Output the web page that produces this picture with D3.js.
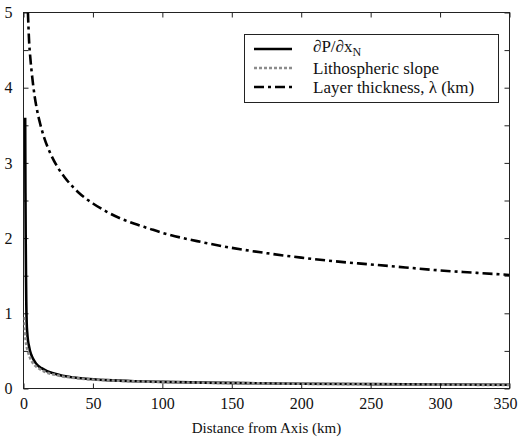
<!DOCTYPE html>
<html>
<head>
<meta charset="utf-8">
<script src="https://cdn.jsdelivr.net/npm/d3@7"></script>
<style>
  html, body { margin: 0; padding: 0; background: #fff; }
  svg { display: block; }
</style>
</head>
<body>
<svg id="chart" width="518" height="437"></svg>
<script>
// Distance from the spreading axis (km) and the three profiles
const pressureX = [1.2, 1.4, 1.6, 1.8, 2.0, 2.3, 2.7, 3.2, 4, 5, 6, 8, 10, 13, 17, 22, 28, 35, 45, 60, 80, 100, 130, 160, 200, 250, 300, 350];
const pressureY = [3.6, 2.6, 1.95, 1.5, 1.15, 0.87, 0.74, 0.64, 0.56, 0.48, 0.43, 0.36, 0.31, 0.27, 0.23, 0.2, 0.17, 0.15, 0.13, 0.112, 0.097, 0.088, 0.078, 0.071, 0.064, 0.058, 0.053, 0.05];

const slopeX = [0.3, 0.6, 1.0, 1.5, 2.0, 2.7, 3.5, 4.5, 6, 8, 10.7, 14, 17, 22, 28, 35, 45, 60, 80, 100, 130, 160, 200, 250, 300, 350];
const slopeY = [0.95, 0.85, 0.75, 0.65, 0.58, 0.52, 0.47, 0.42, 0.36, 0.31, 0.27, 0.235, 0.21, 0.185, 0.16, 0.145, 0.125, 0.11, 0.095, 0.085, 0.077, 0.07, 0.063, 0.056, 0.051, 0.047];

const thickX = [3.2, 4, 5, 6, 8, 10, 12, 15, 20, 25, 30, 40, 50, 60, 70, 80, 90, 100, 125, 150, 175, 200, 225, 250, 275, 300, 325, 350];
const thickY = [5.0, 4.63, 4.38, 4.19, 3.89, 3.68, 3.52, 3.33, 3.10, 2.93, 2.80, 2.60, 2.46, 2.35, 2.26, 2.19, 2.13, 2.07, 1.96, 1.87, 1.80, 1.74, 1.69, 1.65, 1.61, 1.57, 1.54, 1.51];

const xTickValues = [0, 50, 100, 150, 200, 250, 300, 350];
const yTickValues = [0, 0.5, 1, 1.5, 2, 2.5, 3, 3.5, 4, 4.5, 5];
const yLabelValues = [0, 1, 2, 3, 4, 5];

const legendLabels = ["Lithospheric slope", "Layer thickness, \u03bb (km)"];

const svg = d3.select("#chart");
const margin = { left: 23.5, right: 8.5, top: 12.5, bottom: 48.5 };
const W = 518, H = 437;
const font = "'Liberation Serif', 'DejaVu Serif', 'Liberation Sans', sans-serif";

const x = d3.scaleLinear().domain([0, 350]).range([margin.left, W - margin.right]);
const y = d3.scaleLinear().domain([0, 5]).range([H - margin.bottom, margin.top]);

svg.append("defs").append("clipPath").attr("id", "plotClip")
  .append("rect")
  .attr("x", x(0)).attr("y", y(5))
  .attr("width", x(350) - x(0)).attr("height", y(0) - y(5));

// Axes with inward ticks on all four sides
const tickLen = 5;
const bottomAxis = d3.axisBottom(x).tickValues(xTickValues).tickSizeInner(-tickLen).tickSizeOuter(0).tickPadding(9);
const topAxis = d3.axisTop(x).tickValues(xTickValues).tickSizeInner(-tickLen).tickSizeOuter(0).tickFormat("");
const leftAxis = d3.axisLeft(y).tickValues(yTickValues).tickSizeInner(-tickLen).tickSizeOuter(0).tickPadding(11)
  .tickFormat(d => yLabelValues.includes(d) ? d3.format("d")(d) : "");
const rightAxis = d3.axisRight(y).tickValues(yTickValues).tickSizeInner(-tickLen).tickSizeOuter(0).tickFormat("");

function styleAxis(g) {
  g.attr("font-family", font).attr("font-size", 16);
  g.select(".domain").remove();
  g.selectAll(".tick line").attr("stroke", "#222").attr("stroke-width", 1);
  g.selectAll(".tick text").attr("fill", "#111");
}

const gBottom = svg.append("g").attr("transform", `translate(0,${y(0)})`).call(bottomAxis).call(styleAxis);
// keep the last label inside the page edge
gBottom.selectAll(".tick").filter(d => d === 350).select("text")
  .attr("text-anchor", "end").attr("x", W - 1 - x(350));
svg.append("g").attr("transform", `translate(0,${y(5)})`).call(topAxis).call(styleAxis);
svg.append("g").attr("transform", `translate(${x(0)},0)`).call(leftAxis).call(styleAxis);
svg.append("g").attr("transform", `translate(${x(350)},0)`).call(rightAxis).call(styleAxis);

// Frame
svg.append("rect")
  .attr("x", x(0)).attr("y", y(5))
  .attr("width", x(350) - x(0)).attr("height", y(0) - y(5))
  .attr("fill", "none").attr("stroke", "#222").attr("stroke-width", 1);

// Axis title
svg.append("text")
  .attr("x", (x(0) + x(350)) / 2).attr("y", 433)
  .attr("text-anchor", "middle")
  .attr("font-family", font).attr("font-size", 15).attr("fill", "#111")
  .text("Distance from Axis (km)");

// Curves
const line = d3.line().x(d => x(d[0])).y(d => y(d[1])).curve(d3.curveMonotoneX);
const plot = svg.append("g").attr("clip-path", "url(#plotClip)");

const styles = {
  pressure: { stroke: "#000", width: 2.6, dash: null },
  slope: { stroke: "#8c8c8c", width: 2.6, dash: "3,2" },
  thick: { stroke: "#000", width: 2.6, dash: "10,4,3,4" }
};

plot.append("path").datum(d3.zip(thickX, thickY))
  .attr("d", line).attr("fill", "none")
  .attr("stroke", styles.thick.stroke).attr("stroke-width", styles.thick.width)
  .attr("stroke-dasharray", styles.thick.dash);

plot.append("path").datum(d3.zip(pressureX, pressureY))
  .attr("d", line).attr("fill", "none")
  .attr("stroke", styles.pressure.stroke).attr("stroke-width", styles.pressure.width);

plot.append("path").datum(d3.zip(slopeX, slopeY))
  .attr("d", line).attr("fill", "none")
  .attr("stroke", styles.slope.stroke).attr("stroke-width", styles.slope.width)
  .attr("stroke-dasharray", styles.slope.dash);

// Legend
const legend = svg.append("g").attr("font-family", font).attr("font-size", 17).attr("fill", "#111");
legend.append("rect")
  .attr("x", 244.5).attr("y", 34.5).attr("width", 254).attr("height", 68)
  .attr("fill", "#fff").attr("stroke", "#222").attr("stroke-width", 1);

const rows = [
  { style: styles.pressure, y: 49 },
  { style: styles.slope, y: 68, label: legendLabels[0], base: 73.5 },
  { style: styles.thick, y: 87, label: legendLabels[1], base: 93 }
];

rows.forEach(r => {
  legend.append("line")
    .attr("x1", 254).attr("x2", 292).attr("y1", r.y).attr("y2", r.y)
    .attr("stroke", r.style.stroke).attr("stroke-width", r.style.width)
    .attr("stroke-dasharray", r.style.dash);
  if (r.label) {
    legend.append("text").attr("x", 313).attr("y", r.base).text(r.label);
  }
});

// First entry: partial derivative of pressure with subscript N
const t1 = legend.append("text").attr("x", 313).attr("y", 52);
t1.append("tspan").text("\u2202P/\u2202x");
t1.append("tspan").attr("dy", 3.5).attr("font-size", 12).text("N");
</script>
</body>
</html>
